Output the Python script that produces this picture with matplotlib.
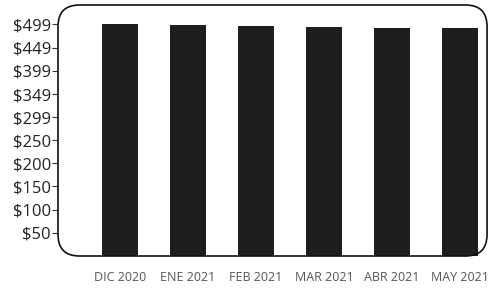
import matplotlib.pyplot as plt
from matplotlib.patches import FancyBboxPatch

# data
months = ["DIC 2020", "ENE 2021", "FEB 2021", "MAR 2021", "ABR 2021", "MAY 2021"]
prices = [500, 498, 496, 494, 492, 491]
tick_values = [50, 100, 150, 200, 250, 299, 349, 399, 449, 499]
tick_labels = ["$50", "$100", "$150", "$200", "$250", "$299", "$349", "$399", "$449", "$499"]

plt.rcParams["font.family"] = ["Open Sans", "DejaVu Sans"]

fig = plt.figure(figsize=(4.89, 2.89), dpi=100)
ax = fig.add_axes([0.1186, 0.1142, 0.8774, 0.8685])

x = list(range(len(months)))
ax.bar(x, prices, width=0.52, color="#1e1e1e", zorder=2)

ax.set_xlim(-0.91, 5.40)
ax.set_ylim(0, 541)

ax.set_yticks(tick_values)
ax.set_yticklabels(tick_labels, fontsize=12, color="#222222")
ax.tick_params(axis="y", length=4, width=0.8, pad=1, color="#333333")

ax.set_xticks(x)
ax.set_xticklabels(months, fontsize=9, color="#555555")
ax.tick_params(axis="x", length=0, pad=11)

for s in ax.spines.values():
    s.set_visible(False)

# rounded frame around the plot area
w_px, h_px = 0.8774 * 489, 0.8685 * 289
frame = FancyBboxPatch((0, 0), 1, 1, boxstyle="round,pad=0,rounding_size=0.05",
                       mutation_aspect=w_px / h_px, transform=ax.transAxes,
                       fill=False, edgecolor="#111111", linewidth=1.2,
                       clip_on=False, zorder=3)
ax.add_patch(frame)

fig.savefig("out.png", dpi=100)
